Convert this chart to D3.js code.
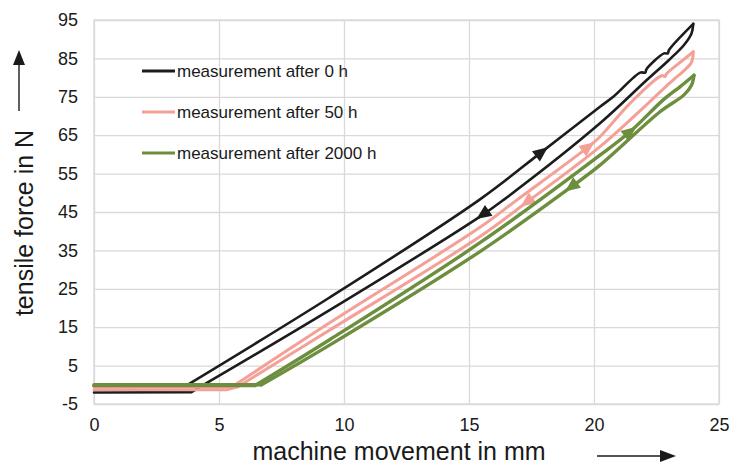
<!DOCTYPE html>
<html>
<head>
<meta charset="utf-8">
<script src="https://cdn.jsdelivr.net/npm/d3@7"></script>
<style>
  html, body { margin: 0; padding: 0; background: #ffffff; }
  svg { display: block; font-family: "Liberation Sans", Arial, sans-serif; }
</style>
</head>
<body>
<svg id="chart" width="731" height="464"></svg>
<script>
// ---------- data ----------
const seriesNames = ["measurement after 0 h", "measurement after 50 h", "measurement after 2000 h"];
const seriesColors = ["#1c1c1c", "#f4a097", "#6d8e3d"];
const xTicks = [0, 5, 10, 15, 20, 25];
const yTicks = [-5, 5, 15, 25, 35, 45, 55, 65, 75, 85, 95];

// 0 h
const load0X   = [0, 3.64, 9.44, 15.44, 17.9, 20.24, 20.77, 21.85, 22.05, 22.1, 22.8, 22.95, 23.0, 23.97];
const load0Y   = [-0.4, -0.4, 22.8, 48.3, 60.6, 72.4, 75.0, 81.3, 81.3, 82.2, 86.3, 86.3, 87.2, 94.0];
const unload0X = [23.97, 23.9, 23.6, 23.0, 22.1, 20.24, 16.37, 15.44, 9.44, 4.31, 3.9, 0];
const unload0Y = [94.0, 91.5, 88.5, 84.6, 79.3, 68.1, 48.1, 43.8, 19.5, -0.3, -1.9, -2.0];

// 50 h
const load50X   = [0, 5.51, 9.44, 15.44, 16.91, 19.76, 20.24, 21.44, 22.7, 22.85, 22.9, 23.57, 23.97];
const load50Y   = [-0.6, -0.6, 16.2, 41.0, 48.1, 61.9, 64.6, 73.3, 80.5, 80.3, 81.0, 84.6, 86.7];
const unload50X = [23.97, 23.9, 23.6, 23.17, 20.24, 17.32, 15.44, 9.44, 5.76, 5.3, 0];
const unload50Y = [86.7, 84.0, 81.8, 79.4, 62.0, 47.6, 38.6, 14.3, -0.5, -1.3, -1.3];

// 2000 h
const load2000X   = [0, 6.44, 9.44, 15.44, 20.24, 21.44, 22.77, 23.44, 24.0];
const load2000Y   = [-0.2, -0.2, 11.8, 37.0, 59.8, 65.9, 74.2, 77.6, 80.6];
const unload2000X = [24.0, 23.9, 23.6, 22.64, 20.24, 19.1, 15.44, 9.44, 6.7, 0];
const unload2000Y = [80.6, 78.0, 75.5, 71.1, 57.2, 51.6, 34.7, 10.4, 0.0, 0.0];

// direction arrows: x position on the loading (up) and unloading (down) branch
const arrowLoadX   = [17.9, 19.76, 21.44];
const arrowUnloadX = [15.56, 17.32, 19.1];

// ---------- build ----------
const zipXY = (xs, ys) => xs.map((x, i) => ({ x, y: ys[i] }));
const series = [
  { load: zipXY(load0X, load0Y), unload: zipXY(unload0X, unload0Y), width: 2.6 },
  { load: zipXY(load50X, load50Y), unload: zipXY(unload50X, unload50Y), width: 3 },
  { load: zipXY(load2000X, load2000Y), unload: zipXY(unload2000X, unload2000Y), width: 3.4 }
];

const svg = d3.select("#chart");
const pL = 94, pR = 719, pT = 20, pB = 404;
const x = d3.scaleLinear().domain([0, 25]).range([pL, pR]);
const y = d3.scaleLinear().domain([-5, 95]).range([pB, pT]);

// grid + axes
const gx = svg.append("g").attr("transform", `translate(0,${pB})`)
  .call(d3.axisBottom(x).tickValues(xTicks).tickSize(-(pB - pT)).tickPadding(14).tickFormat(d => String(d)));
const gy = svg.append("g").attr("transform", `translate(${pL},0)`)
  .call(d3.axisLeft(y).tickValues(yTicks).tickSize(-(pR - pL)).tickPadding(16).tickFormat(d => String(d)));
[gx, gy].forEach(g => {
  g.select(".domain").remove();
  g.selectAll(".tick line").attr("stroke", "#d9d9d9").attr("stroke-width", 1.3);
  g.selectAll(".tick text").attr("fill", "#1a1a1a").style("font-size", "18px")
    .style("font-family", "'Liberation Sans', Arial, sans-serif");
});
svg.append("rect").attr("x", pL).attr("y", pT).attr("width", pR - pL).attr("height", pB - pT)
  .attr("fill", "none").attr("stroke", "#d9d9d9").attr("stroke-width", 1.3);

// curves: flat baseline parts straight, rising parts smoothed
const lineStraight = d3.line().x(d => x(d.x)).y(d => y(d.y)).curve(d3.curveLinear);
const lineSmooth = d3.line().x(d => x(d.x)).y(d => y(d.y)).curve(d3.curveCatmullRom.alpha(0.5));

function pointOn(branch, xv) {
  for (let i = 0; i < branch.length - 1; i++) {
    const a = branch[i], b = branch[i + 1];
    const lo = Math.min(a.x, b.x), hi = Math.max(a.x, b.x);
    if (xv >= lo && xv <= hi && hi > lo) {
      const t = (xv - a.x) / (b.x - a.x);
      return { x: xv, y: a.y + t * (b.y - a.y), a, b };
    }
  }
  return null;
}

series.forEach((s, i) => {
  const g = svg.append("g");
  // loading: baseline = points with y <= 0 at the start
  let lo = 0; while (lo + 1 < s.load.length && s.load[lo + 1].y <= 0) lo++;
  // unloading: first point back at/below zero
  let uo = s.unload.findIndex(d => d.y <= 0);
  const parts = [
    { pts: s.load.slice(0, lo + 1), gen: lineStraight },
    { pts: s.load.slice(lo), gen: lineSmooth },
    { pts: s.unload.slice(0, uo + 1), gen: lineSmooth },
    { pts: s.unload.slice(uo), gen: lineStraight }
  ];
  parts.forEach(p => {
    if (p.pts.length < 2) return;
    g.append("path").attr("d", p.gen(p.pts)).attr("fill", "none")
      .attr("stroke", seriesColors[i]).attr("stroke-width", s.width)
      .attr("stroke-linejoin", "round").attr("stroke-linecap", "round");
  });

  const arrows = [
    { branch: s.load, xv: arrowLoadX[i] },
    { branch: s.unload, xv: arrowUnloadX[i] }
  ];
  arrows.forEach(a => {
    const p = pointOn(a.branch, a.xv);
    if (!p) return;
    const ang = Math.atan2(y(p.b.y) - y(p.a.y), x(p.b.x) - x(p.a.x)) * 180 / Math.PI;
    g.append("path")
      .attr("d", "M8,0 L-7,-6.5 L-7,6.5 Z")
      .attr("fill", seriesColors[i])
      .attr("transform", `translate(${x(p.x)},${y(p.y)}) rotate(${ang})`);
  });
});

// legend
const legendY = [71, 112, 153];
seriesNames.forEach((name, i) => {
  svg.append("line").attr("x1", 142).attr("x2", 175).attr("y1", legendY[i]).attr("y2", legendY[i])
    .attr("stroke", seriesColors[i]).attr("stroke-width", 3.2);
  svg.append("text").attr("x", 177).attr("y", legendY[i]).attr("dy", "0.35em")
    .attr("fill", "#1a1a1a").style("font-size", "17px").text(name);
});

// axis titles with arrows
svg.append("text").attr("x", 399).attr("y", 460).attr("text-anchor", "middle")
  .attr("fill", "#1a1a1a").style("font-size", "25px").text("machine movement in mm");
svg.append("line").attr("x1", 597).attr("x2", 662).attr("y1", 456).attr("y2", 456)
  .attr("stroke", "#1a1a1a").attr("stroke-width", 1.4);
svg.append("path").attr("d", "M676,456 L660,450 L660,462 Z").attr("fill", "#1a1a1a");

svg.append("text").attr("transform", "translate(33,223) rotate(-90)").attr("text-anchor", "middle")
  .attr("fill", "#1a1a1a").style("font-size", "25px").text("tensile force in N");
svg.append("line").attr("x1", 19).attr("x2", 19).attr("y1", 111).attr("y2", 64)
  .attr("stroke", "#1a1a1a").attr("stroke-width", 1.4);
svg.append("path").attr("d", "M19,50 L13,65 L25,65 Z").attr("fill", "#1a1a1a");
</script>
</body>
</html>
